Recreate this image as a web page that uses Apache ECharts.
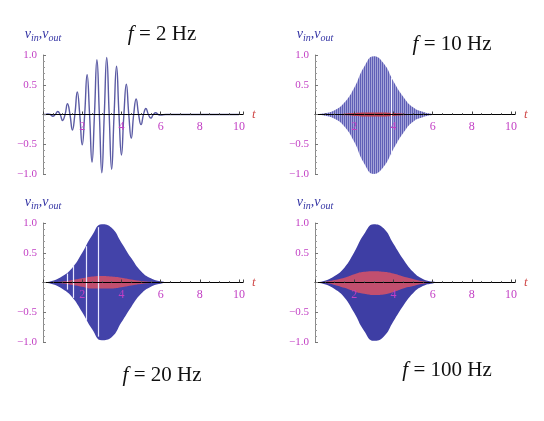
<!DOCTYPE html>
<html>
<head>
<meta charset="utf-8">
<script src="https://cdn.jsdelivr.net/npm/echarts@6/dist/echarts.min.js"></script>
<style>
html, body { margin: 0; padding: 0; background: #fff; }
#chart { width: 544px; height: 421px; }
</style>
</head>
<body>
<div id="chart"></div>
<script>
// f = 2 Hz : peaks, troughs and zero crossings
var t2 = [0, 0.125, 0.25, 0.375, 0.5, 0.625, 0.75, 0.875, 1.0, 1.125, 1.25, 1.375, 1.5, 1.625, 1.75, 1.875,
	2.0, 2.125, 2.25, 2.375, 2.5, 2.625, 2.75, 2.875, 3.0, 3.125, 3.25, 3.375, 3.5, 3.625, 3.75, 3.875,
	4.0, 4.125, 4.25, 4.375, 4.5, 4.625, 4.75, 4.875, 5.0, 5.125, 5.25, 5.375, 5.5, 5.625, 5.75, 5.875,
	6.0, 6.25, 10];
var v2 = [0, 0, 0.01, 0, -0.03, 0, 0.05, 0, -0.10, 0, 0.18, 0, -0.26, 0, 0.38, 0,
	-0.51, 0, 0.67, 0, -0.80, 0, 0.92, 0, -0.98, 0, 0.96, 0, -0.92, 0, 0.81, 0,
	-0.68, 0, 0.51, 0, -0.40, 0, 0.26, 0, -0.17, 0, 0.10, 0, -0.06, 0, 0.03, 0,
	-0.01, 0, 0];

// 10, 20, 100 Hz : the oscillation is too dense to resolve, so envelopes are read instead
var tEnv = [0, 0.5, 1.0, 1.5, 2.0, 2.5, 3.0, 3.5, 4.0, 4.5, 5.0, 5.5, 6.0, 6.5, 10];

var in10Top = [0, 0.02, 0.07, 0.20, 0.45, 0.80, 0.98, 0.86, 0.56, 0.30, 0.12, 0.045, 0.01, 0, 0];
var in10Bot = [0, -0.02, -0.07, -0.20, -0.46, -0.82, -1.00, -0.88, -0.58, -0.31, -0.12, -0.045, -0.01, 0, 0];
var out10Top = [0, 0, 0.006, 0.014, 0.024, 0.032, 0.034, 0.032, 0.024, 0.014, 0.006, 0, 0, 0, 0];
var out10Bot = [0, 0, -0.006, -0.014, -0.024, -0.032, -0.034, -0.032, -0.024, -0.014, -0.006, 0, 0, 0, 0];

var in20Top = [0, 0.03, 0.11, 0.25, 0.50, 0.79, 0.98, 0.92, 0.67, 0.41, 0.19, 0.07, 0.02, 0, 0];
var in20Bot = [0, -0.03, -0.11, -0.25, -0.50, -0.78, -0.97, -0.92, -0.67, -0.41, -0.19, -0.07, -0.02, 0, 0];
var out20Top = [0, 0.005, 0.015, 0.04, 0.07, 0.10, 0.11, 0.10, 0.08, 0.05, 0.025, 0.01, 0.003, 0, 0];
var out20Bot = [0, -0.005, -0.015, -0.04, -0.07, -0.10, -0.10, -0.10, -0.08, -0.05, -0.025, -0.01, -0.003, 0, 0];

var in100Top = [0, 0.03, 0.11, 0.25, 0.51, 0.81, 0.98, 0.91, 0.65, 0.39, 0.18, 0.06, 0.015, 0, 0];
var in100Bot = [0, -0.03, -0.11, -0.25, -0.51, -0.81, -0.98, -0.91, -0.65, -0.39, -0.18, -0.06, -0.015, 0, 0];
var out100Top = [0, 0.01, 0.04, 0.08, 0.14, 0.18, 0.19, 0.18, 0.15, 0.10, 0.06, 0.02, 0.005, 0, 0];
var out100Bot = [0, -0.01, -0.04, -0.09, -0.15, -0.19, -0.21, -0.20, -0.16, -0.10, -0.06, -0.02, -0.005, 0, 0];

// white rendering gaps in the filled traces: [t, top, bottom]
var gaps10 = [[3.88, 0.62, -0.68]];
var gaps20 = [[1.22, 0.15, -0.12], [1.55, 0.29, -0.26], [2.22, 0.61, -0.64], [2.83, 0.93, -0.91]];

var xTicks = [2, 4, 6, 8, 10];
var yTicks = [-1.0, -0.5, 0.5, 1.0];
var titles = ['2', '10', '20', '100'];

var serif = 'Liberation Serif';
var pink = '#c23fc4';
var inkBlue = '#4343a9';
var inkRed = '#c24f6f';

function pairs(xs, ys) {
	var out = [];
	for (var i = 0; i < xs.length; i++) {
		out.push([xs[i], ys[i]]);
	}
	return out;
}

function stripes() {
	var c = document.createElement('canvas');
	c.width = 2;
	c.height = 1;
	var ctx = c.getContext('2d');
	ctx.fillStyle = '#5e5eb6';
	ctx.fillRect(0, 0, 1, 1);
	ctx.fillStyle = '#a2a2d8';
	ctx.fillRect(1, 0, 1, 1);
	return c;
}

function gapLines(gaps) {
	return gaps.map(function(g) {
		return [{ coord: [g[0], g[1]] }, { coord: [g[0], g[2]] }];
	});
}

var plotH = 119;
var grids = [
	{ left: 43, top: 55, width: 200, height: plotH },
	{ left: 315, top: 55, width: 200, height: plotH },
	{ left: 43, top: 223, width: 200, height: plotH },
	{ left: 315, top: 223, width: 200, height: plotH }
];

var titlePos = [[157, 19], [447, 29], [157, 360], [442, 355]];

var xAxes = [], yAxes = [];
for (var i = 0; i < 4; i++) {
	xAxes.push({
		gridIndex: i,
		type: 'value',
		position: 'bottom',
		offset: -plotH / 2,
		min: 0,
		max: 10.2,
		interval: 2,
		z: 5,
		axisLine: { onZero: false, lineStyle: { color: '#000', width: 1 } },
		axisTick: { inside: true, length: 3, lineStyle: { color: '#444' } },
		minorTick: { show: true, splitNumber: 4, length: 1.5, lineStyle: { color: '#666' } },
		splitLine: { show: false },
		axisLabel: {
			margin: 6,
			color: pink,
			fontFamily: serif,
			fontSize: 12,
			formatter: function(v) {
				return xTicks.indexOf(v) >= 0 ? String(v) : '';
			}
		},
		name: 't',
		nameGap: 9,
		nameTextStyle: { color: '#d04a4a', fontStyle: 'italic', fontFamily: serif, fontSize: 13 }
	});
	yAxes.push({
		gridIndex: i,
		type: 'value',
		min: -1,
		max: 1,
		interval: 0.5,
		z: 5,
		axisLine: { lineStyle: { color: '#8a8a8a', width: 1 } },
		axisTick: { inside: true, length: 3, lineStyle: { color: '#777' } },
		minorTick: { show: true, splitNumber: 5, length: 2, lineStyle: { color: '#999' } },
		splitLine: { show: false },
		axisLabel: {
			margin: 6,
			color: pink,
			fontFamily: serif,
			fontSize: 11,
			formatter: function(v) {
				if (yTicks.indexOf(v) < 0) return '';
				return (v < 0 ? '\u2212' : '') + Math.abs(v).toFixed(1);
			}
		},
		name: '{v|v}{s|in}{v|,v}{s|out}',
		nameGap: 12,
		nameTextStyle: {
			color: '#3434a4',
			fontFamily: serif,
			fontStyle: 'italic',
			rich: {
				v: { fontSize: 14, fontStyle: 'italic', fontFamily: serif, color: '#3434a4', verticalAlign: 'top', lineHeight: 16 },
				s: { fontSize: 10, fontStyle: 'italic', fontFamily: serif, color: '#3434a4', verticalAlign: 'bottom', lineHeight: 16, padding: [6, 0, 0, 0] }
			}
		}
	});
}

var titleList = titles.map(function(f, i) {
	return {
		text: '{i|f} = ' + f + ' Hz',
		left: titlePos[i][0],
		top: titlePos[i][1],
		textAlign: 'center',
		textStyle: {
			fontFamily: serif,
			fontSize: 21,
			fontWeight: 'normal',
			color: '#111',
			rich: {
				i: { fontFamily: serif, fontStyle: 'italic', fontSize: 21, color: '#111' }
			}
		}
	};
});

function band(name, idx, xs, ys, fill) {
	return {
		name: name,
		type: 'line',
		xAxisIndex: idx,
		yAxisIndex: idx,
		data: pairs(xs, ys),
		smooth: true,
		showSymbol: false,
		silent: true,
		lineStyle: { width: 0 },
		areaStyle: { color: fill, opacity: 1 }
	};
}

var stripeFill = { image: stripes(), repeat: 'repeat' };

var series = [{
	name: 'v_in',
	type: 'line',
	xAxisIndex: 0,
	yAxisIndex: 0,
	data: pairs(t2, v2),
	smooth: true,
	showSymbol: false,
	lineStyle: { color: '#5b5ba4', width: 1.4 }
},
	band('v_in', 1, tEnv, in10Top, stripeFill),
	band('v_in', 1, tEnv, in10Bot, stripeFill),
	band('v_out', 1, tEnv, out10Top, '#c0404f'),
	band('v_out', 1, tEnv, out10Bot, '#c0404f'),
	band('v_in', 2, tEnv, in20Top, inkBlue),
	band('v_in', 2, tEnv, in20Bot, inkBlue),
	band('v_out', 2, tEnv, out20Top, inkRed),
	band('v_out', 2, tEnv, out20Bot, inkRed),
	band('v_in', 3, tEnv, in100Top, '#3e3ea4'),
	band('v_in', 3, tEnv, in100Bot, '#3e3ea4'),
	band('v_out', 3, tEnv, out100Top, inkRed),
	band('v_out', 3, tEnv, out100Bot, inkRed)
];

// gaps drawn on top of the last band of each panel
series[4].markLine = {
	silent: true, symbol: 'none', label: { show: false },
	lineStyle: { color: '#f4f4ff', width: 1.2, type: 'solid' },
	data: gapLines(gaps10)
};
series[8].markLine = {
	silent: true, symbol: 'none', label: { show: false },
	lineStyle: { color: '#e8e8ff', width: 1.2, type: 'solid' },
	data: gapLines(gaps20)
};

var chart = echarts.init(document.getElementById('chart'), null, { renderer: 'canvas' });

var option = {
	backgroundColor: '#fff',
	animation: false,
	title: titleList,
	grid: grids,
	xAxis: xAxes,
	yAxis: yAxes,
	series: series
};

chart.setOption(option);
</script>
</body>
</html>
